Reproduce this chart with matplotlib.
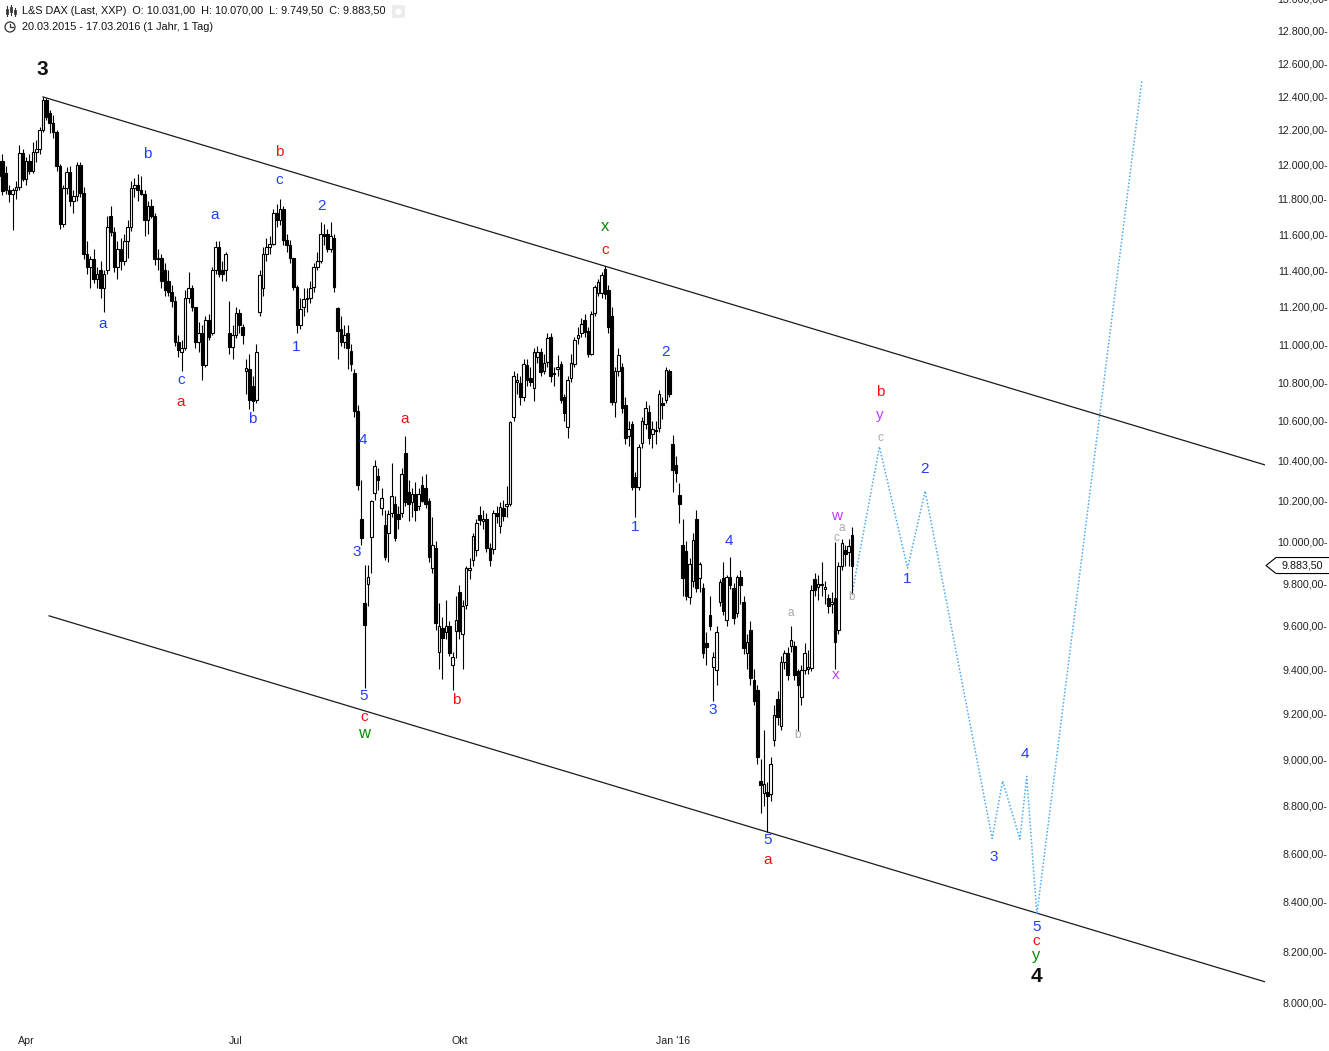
import matplotlib
matplotlib.use('Agg')
import matplotlib.pyplot as plt
import matplotlib.ticker as mticker
from matplotlib.patches import Polygon, Circle, FancyBboxPatch, Rectangle
from matplotlib.lines import Line2D
from matplotlib.transforms import IdentityTransform
import numpy as np
import pandas as pd

plt.rcParams['font.family'] = ['Liberation Sans', 'DejaVu Sans']

# trading days (L&S DAX, 20.03.2015 - 17.03.2016)
holidays = ['2015-04-03', '2015-04-06', '2015-05-01', '2015-12-24',
            '2015-12-25', '2015-12-31', '2016-01-01']
dates = pd.bdate_range('2015-03-20', '2016-03-17')
dates = dates[~dates.isin(pd.to_datetime(holidays))]

opens = [11930, 12020, 11950, 11850, 11830, 11850, 11870, 12065, 11915, 12020,
         11960, 12070, 12090, 12200, 12380, 12300, 12240, 12190, 11990, 11660,
         11860, 11955, 11790, 11815, 11995, 11835, 11490, 11420, 11460, 11350,
         11400, 11300, 11400, 11700, 11610, 11420, 11520, 11450, 11560, 11640,
         11860, 11880, 11850, 11830, 11680, 11760, 11700, 11460, 11470, 11400,
         11340, 11280, 11230, 11010, 10960, 10980, 11250, 11300, 11200, 11010,
         11060, 10890, 11130, 11060, 11400, 11530, 11400, 11400, 11060, 10985,
         11050, 11165, 11090, 10860, 10870, 10780, 10705, 11170, 11300, 11490,
         11530, 11545, 11720, 11680, 11745, 11565, 11540, 11465, 11310, 11100,
         11200, 11240, 11250, 11310, 11420, 11450, 11600, 11600, 11520, 11580,
         11195, 11080, 11010, 11060, 10965, 10850, 10650, 10107, 9706, 9798,
         10020, 10235, 10320, 10160, 10080, 10040, 10140, 10180, 10135, 10140,
         10435, 10240, 10190, 10230, 10170, 10275, 10260, 10195, 9870, 9970,
         9480, 9590, 9570, 9600, 9420, 9575, 9760, 9560, 9695, 9860,
         9910, 9960, 10130, 10100, 10110, 9970, 9965, 10140, 10075, 10160,
         10170, 10180, 10620, 10800, 10795, 10720, 10890, 10820, 10770, 10930,
         10960, 10860, 10905, 11040, 10840, 10870, 10895, 10720, 10570, 10820,
         10895, 11030, 11060, 11130, 11070, 10950, 11165, 11275, 11275, 11405,
         11290, 11150, 10695, 10860, 10880, 10680, 10520, 10585, 10315, 10265,
         10485, 10585, 10645, 10530, 10555, 10565, 10690, 10705, 10860, 10480,
         10375, 10225, 9980, 9955, 9735, 9810, 10110, 9825, 9775, 9520,
         9650, 9410, 9395, 9710, 9825, 9625, 9830, 9775, 9660, 9830,
         9710, 9475, 9580, 9350, 9305, 8905, 8855, 8860, 8850, 9085,
         9265, 9145, 9435, 9475, 9505, 9505, 9390, 9275, 9395, 9400,
         9405, 9820, 9780, 9790, 9770, 9730, 9700, 9730, 9580, 9880,
         9960, 9950, 10031]
highs = [12050, 12060, 11990, 11880, 11860, 11900, 12110, 12090, 12040, 12060,
         12130, 12140, 12220, 12395, 12390, 12320, 12290, 12200, 12000, 11880,
         11985, 11990, 11850, 12010, 12010, 11870, 11560, 11480, 11520, 11420,
         11450, 11400, 11700, 11760, 11640, 11560, 11580, 11600, 11680, 11900,
         11920, 11940, 11930, 11850, 11790, 11800, 11720, 11520, 11490, 11440,
         11400, 11320, 11260, 11050, 11020, 11290, 11390, 11320, 11200, 11120,
         11100, 11150, 11160, 11420, 11560, 11560, 11450, 11500, 11230, 11100,
         11200, 11190, 11110, 10920, 10950, 10830, 11000, 11400, 11530, 11580,
         11590, 11740, 11770, 11800, 11760, 11600, 11570, 11470, 11320, 11250,
         11300, 11300, 11340, 11440, 11500, 11670, 11660, 11630, 11670, 11600,
         11200, 11150, 11100, 11100, 11000, 10870, 10680, 10300, 9887, 9887,
         10200, 10400, 10360, 10260, 10150, 10150, 10385, 10220, 10170, 10360,
         10520, 10300, 10260, 10290, 10260, 10320, 10330, 10210, 10120, 10000,
         9705, 9640, 9720, 9620, 9480, 9740, 9790, 9720, 9880, 9920,
         10040, 10110, 10170, 10150, 10140, 9990, 10150, 10170, 10190, 10200,
         10270, 10600, 10860, 10850, 10830, 10920, 10920, 10880, 10980, 10990,
         10980, 10950, 11060, 11060, 10880, 10940, 10910, 10740, 10830, 10950,
         11040, 11090, 11140, 11160, 11090, 11180, 11320, 11350, 11390, 11425,
         11320, 11200, 10880, 10980, 10900, 10720, 10600, 10600, 10340, 10480,
         10620, 10700, 10680, 10600, 10600, 10760, 10720, 10880, 10870, 10525,
         10420, 10285, 10110, 10000, 9920, 10040, 10150, 9900, 9800, 9570,
         9740, 9480, 9600, 9820, 9900, 9840, 9925, 9800, 9840, 9860,
         9740, 9560, 9620, 9400, 9330, 9000, 9130, 8900, 9010, 9240,
         9300, 9460, 9490, 9500, 9600, 9530, 9400, 9420, 9520, 9490,
         9790, 9850, 9840, 9900, 9810, 9750, 9760, 9995, 9900, 10010,
         9980, 10010, 10070]
lows = [11900, 11820, 11830, 11780, 11625, 11800, 11850, 11900, 11880, 11940,
        11950, 12010, 12060, 12190, 12260, 12180, 12150, 11960, 11630, 11640,
        11830, 11760, 11720, 11790, 11810, 11460, 11380, 11300, 11330, 11300,
        11250, 11170, 11380, 11590, 11390, 11350, 11400, 11430, 11470, 11620,
        11810, 11790, 11820, 11590, 11600, 11690, 11430, 11400, 11300, 11260,
        11260, 11200, 10990, 10930, 10860, 10970, 11220, 11180, 10980, 10960,
        10810, 10880, 11020, 11050, 11380, 11360, 11340, 11340, 10950, 10920,
        11030, 11060, 11000, 10740, 10660, 10650, 10690, 11150, 11260, 11450,
        11490, 11540, 11640, 11650, 11540, 11500, 11440, 11290, 11060, 11080,
        11150, 11170, 11220, 11280, 11400, 11440, 11540, 11500, 11500, 11280,
        10920, 10990, 10980, 10870, 10860, 10620, 10250, 9980, 9316, 9690,
        9850, 10200, 10250, 10130, 9910, 9900, 10120, 10000, 10060, 10120,
        10170, 10100, 10120, 10100, 10150, 10190, 10160, 9900, 9850, 9580,
        9400, 9355, 9540, 9460, 9305, 9450, 9540, 9400, 9680, 9820,
        9880, 9930, 10080, 10060, 9950, 9880, 9940, 10090, 10040, 10100,
        10120, 10170, 10600, 10740, 10680, 10700, 10780, 10780, 10700, 10900,
        10830, 10840, 10880, 10800, 10780, 10830, 10690, 10600, 10510, 10800,
        10880, 11000, 11040, 11040, 10930, 10940, 11150, 11260, 11250, 11240,
        11060, 10680, 10620, 10830, 10640, 10480, 10470, 10250, 10120, 10250,
        10460, 10560, 10480, 10460, 10480, 10540, 10610, 10690, 10720, 10240,
        10290, 10090, 9740, 9720, 9700, 9780, 9760, 9760, 9450, 9420,
        9580, 9255, 9330, 9690, 9650, 9600, 9770, 9610, 9640, 9700,
        9470, 9400, 9330, 9240, 8980, 8770, 8800, 8690, 8820, 9060,
        9150, 9130, 9400, 9350, 9480, 9350, 9125, 9240, 9380, 9380,
        9390, 9740, 9720, 9740, 9700, 9660, 9660, 9400, 9560, 9860,
        9880, 9880, 9749.5]
closes = [12020, 11845, 11850, 11830, 11850, 11870, 12065, 11915, 12020, 11960,
          12070, 12090, 12200, 12380, 12275, 12240, 12190, 11990, 11660, 11860,
          11955, 11790, 11815, 11995, 11835, 11490, 11420, 11460, 11350, 11380,
          11300, 11380, 11640, 11610, 11420, 11520, 11450, 11560, 11640, 11860,
          11880, 11850, 11830, 11680, 11760, 11700, 11460, 11470, 11340, 11290,
          11280, 11230, 11010, 10970, 10980, 11250, 11300, 11200, 11010, 11060,
          10890, 11130, 11040, 11400, 11530, 11380, 11380, 11490, 10985, 11050,
          11165, 11100, 11050, 10875, 10705, 10700, 10960, 11375, 11490, 11530,
          11545, 11720, 11680, 11745, 11565, 11540, 11465, 11310, 11100, 11190,
          11240, 11250, 11300, 11420, 11450, 11600, 11590, 11520, 11590, 11310,
          11070, 11010, 11050, 10980, 10895, 10650, 10276, 10014, 9603, 9830,
          10195, 10370, 10300, 10210, 9925, 10135, 10220, 10015, 10110, 10330,
          10190, 10180, 10230, 10150, 10230, 10195, 10180, 9925, 9980, 9615,
          9600, 9545, 9600, 9475, 9455, 9625, 9575, 9690, 9870, 9870,
          10025, 10090, 10105, 10110, 9970, 9910, 10140, 10125, 10165, 10125,
          10180, 10595, 10830, 10810, 10720, 10895, 10810, 10800, 10960, 10960,
          10855, 10900, 11030, 10830, 10850, 10880, 10705, 10640, 10810, 10900,
          11020, 11050, 11110, 11065, 10950, 11160, 11310, 11335, 11375, 11270,
          11090, 10695, 10860, 10940, 10665, 10510, 10560, 10265, 10265, 10465,
          10600, 10665, 10510, 10560, 10545, 10740, 10680, 10865, 10740, 10350,
          10335, 10180, 9825, 9740, 9890, 10005, 9775, 9890, 9475, 9500,
          9600, 9455, 9570, 9805, 9670, 9830, 9790, 9635, 9830, 9790,
          9495, 9525, 9360, 9255, 9010, 8890, 8895, 8840, 8980, 9195,
          9185, 9435, 9475, 9375, 9535, 9375, 9330, 9395, 9475, 9410,
          9765, 9765, 9795, 9795, 9780, 9690, 9710, 9525, 9880, 9990,
          9940, 9975, 9883.5]

# channel lines (trading-day index, price)
upper_line_x = [13.0, 374.0]
upper_line_y = [12396, 10376]
lower_line_x = [14.8, 374.0]
lower_line_y = [9646, 8082]

# projected path, starting at the last low
proj_x = [260.1, 268.4, 273.6, 293.4, 296.5, 301.6, 303.6, 306.6, 337.6]
proj_y = [10468, 9871, 10246, 8662, 8906, 8659, 8926, 8350, 12493]

# wave labels: (index, price, text)
blue_labels = [(43.7, 12059, 'b'), (63.8, 11709, 'a'), (30.7, 11108, 'a'),
               (53.8, 10811, 'c'), (74.7, 10610, 'b'), (82.7, 11909, 'c'),
               (95.4, 11759, '2'), (87.7, 10985, '1'), (107.5, 10502, '4'),
               (105.8, 9949, '3'), (107.8, 9280, '5'), (187.9, 10070, '1'),
               (197.0, 10958, '2'), (215.7, 10001, '4'), (210.9, 9217, '3'),
               (227.2, 8656, '5'), (273.3, 10356, '2'), (268.2, 9819, '1'),
               (293.9, 8585, '3'), (303.1, 9023, '4'), (306.4, 8299, '5')]
red_labels = [(82.7, 12070, 'b'), (53.8, 10697, 'a'), (119.9, 10610, 'a'),
              (107.8, 9186, 'c'), (135.0, 9262, 'b'), (179.0, 11512, 'c'),
              (260.3, 10748, 'b'), (227.2, 8573, 'a'), (306.4, 8243, 'c')]
green_labels = [(107.8, 9111, 'w'), (179.0, 11641, 'x'), (306.4, 8184, 'y')]
purple_labels = [(260.3, 10630, 'y'), (247.3, 10125, 'w'), (247.3, 9375, 'x')]
gray_labels = [(260.3, 10512, 'c'), (249.0, 10065, 'a'), (247.3, 10015, 'c'),
               (234.0, 9660, 'a'), (236.0, 9106, 'b'), (252.0, 9735, 'b')]
big_labels = [(12.7, 12559, '3'), (306.4, 8101, '4')]

month_starts = ['2015-04-01', '2015-07-01', '2015-10-01', '2016-01-01']
month_names = ['Apr', 'Jul', 'Okt', "Jan '16"]
price_levels = list(range(8000, 13001, 200))

W, H = 1329, 1051
fig = plt.figure(figsize=(W / 100, H / 100), dpi=100)
ax = fig.add_axes([0, 21 / H, 1265 / W, 1031.5 / H])

opens = np.array(opens, float)
highs = np.array(highs, float)
lows = np.array(lows, float)
closes = np.array(closes, float)
x = np.arange(len(dates))

# candles
up = closes >= opens
ax.vlines(x, lows, highs, color='black', lw=0.8, zorder=2)
ax.bar(x, np.abs(closes - opens), bottom=np.minimum(opens, closes), width=0.78,
       color=np.where(up, 'white', 'black'), edgecolor='black', linewidth=0.8, zorder=3)

# channel
ax.plot(upper_line_x, upper_line_y, color='#1a1a1a', lw=0.9, zorder=1)
ax.plot(lower_line_x, lower_line_y, color='#1a1a1a', lw=0.9, zorder=1)

# projection
ax.plot([x[-1]] + proj_x, [lows[-1]] + proj_y, color='#4aa8f0',
        ls=(0, (1, 1.3)), lw=1.1, zorder=1)

for labs, col, fs, fw in [(blue_labels, '#1f3dff', 11, 'normal'),
                          (red_labels, '#f01010', 11, 'normal'),
                          (green_labels, '#0a8a0a', 12, 'normal'),
                          (purple_labels, '#c03cff', 11, 'normal'),
                          (gray_labels, '#a8a8a8', 8.5, 'normal'),
                          (big_labels, '#111111', 15, 'bold')]:
    for lx, ly, t in labs:
        ax.text(lx, ly, t, color=col, fontsize=fs, fontweight=fw,
                ha='center', va='center', zorder=5)

ax.set_yscale('log')
ax.set_ylim(7896, 13000)
ax.set_xlim(0.295, 374.0)
for s in ax.spines.values():
    s.set_visible(False)

def de_fmt(v, pos):
    s = f'{v:,.2f}'.replace(',', 'X').replace('.', ',').replace('X', '.')
    return s + '-'

ax.yaxis.tick_right()
ax.yaxis.set_major_locator(mticker.FixedLocator(price_levels))
ax.yaxis.set_minor_locator(mticker.NullLocator())
ax.yaxis.set_major_formatter(mticker.FuncFormatter(de_fmt))
ax.tick_params(axis='y', length=0, pad=45, labelsize=7.7, labelcolor='#222222')
for lab in ax.get_yticklabels():
    lab.set_horizontalalignment('right')

tick_pos = [int(np.searchsorted(dates, pd.Timestamp(m))) for m in month_starts]
ax.set_xticks(tick_pos)
ax.set_xticklabels(month_names)
ax.tick_params(axis='x', length=0, pad=4, labelsize=7.7, labelcolor='#222222')

# last price tag
fig.canvas.draw()
yd = ax.transData.transform((0, closes[-1]))[1]
tag = Polygon([(1266, yd), (1276, yd + 8), (1333, yd + 8), (1333, yd - 8), (1276, yd - 8)],
              closed=True, fc='white', ec='black', lw=0.8, transform=IdentityTransform(),
              clip_on=False, zorder=10)
fig.add_artist(tag)
fig.text(1302 / W, yd / H, de_fmt(closes[-1], 0)[:-1], fontsize=7.7, ha='center',
         va='center', color='#111111', zorder=11)

# header
hdr = 'L&S DAX (Last, XXP)  O: 10.031,00  H: 10.070,00  L: 9.749,50  C: 9.883,50'
fig.text(22 / W, 1 - 11 / H, hdr, fontsize=7.8, va='center', ha='left', color='#111111')
fig.text(22 / W, 1 - 27 / H, '20.03.2015 - 17.03.2016 (1 Jahr, 1 Tag)', fontsize=7.8,
         va='center', ha='left', color='#111111')

# small icons
for cx, b0, b1, w0, w1 in [(7, 9, 14, 6, 16), (11, 7, 12, 5, 15), (15, 10, 14, 8, 16)]:
    fig.add_artist(Line2D([cx, cx], [H - w0, H - w1], color='#333333', lw=0.8,
                          transform=IdentityTransform()))
    fig.add_artist(Rectangle((cx - 1.2, H - b1), 2.4, b1 - b0, fc='#333333', ec='#333333',
                             lw=0.5, transform=IdentityTransform()))
fig.add_artist(Circle((10, H - 27), 5, fc='none', ec='#333333', lw=0.9,
                      transform=IdentityTransform()))
fig.add_artist(Line2D([10, 10, 13], [H - 24, H - 27, H - 27], color='#333333', lw=0.9,
                      transform=IdentityTransform()))
fig.add_artist(FancyBboxPatch((392, H - 18), 13, 13, boxstyle='round,pad=0,rounding_size=2',
                              fc='#ececec', ec='none', transform=IdentityTransform()))
fig.add_artist(Circle((398.5, H - 11.5), 3, fc='white', ec='none',
                      transform=IdentityTransform()))

fig.savefig('out.png', dpi=100)
